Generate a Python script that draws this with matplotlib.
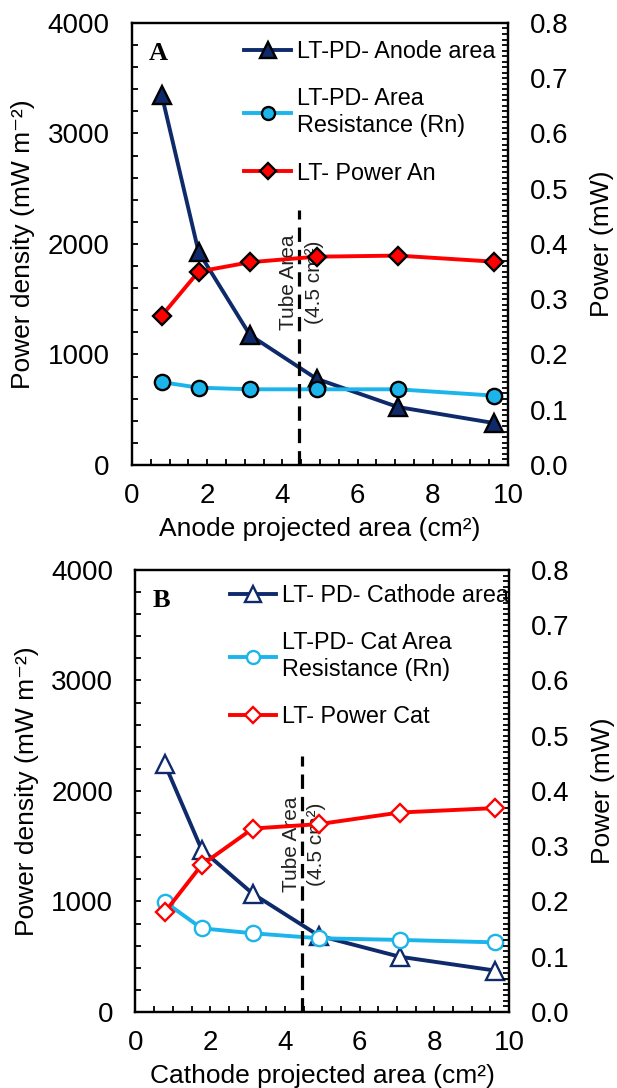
import matplotlib
matplotlib.use("Agg")
import matplotlib.pyplot as plt
from matplotlib.ticker import MultipleLocator, FormatStrFormatter

plt.rcParams['font.family'] = ['Liberation Sans', 'DejaVu Sans']

# projected electrode areas (cm2)
area = [0.79, 1.77, 3.14, 4.91, 7.07, 9.62]

# panel A - anode
pd_anode = [3350, 1930, 1175, 780, 525, 380]
pd_anode_rn = [750, 700, 685, 685, 685, 628]
power_an = [0.270, 0.350, 0.367, 0.377, 0.379, 0.368]

# panel B - cathode
pd_cathode = [2240, 1470, 1070, 690, 500, 375]
pd_cathode_rn = [995, 757, 712, 667, 652, 630]
power_cat = [0.181, 0.266, 0.332, 0.340, 0.361, 0.369]

tube_area = 4.45
tube_line_top = [2310, 2320]

navy = '#0F2A6B'
light = '#1BB5EC'
red = '#FF0000'

fig = plt.figure(figsize=(6.17, 10.88), dpi=100)


def make_panel(pos, letter, pd, pd_rn, power, labels, xlabel, hollow,
               line_top, text_y, leg_anchor):
    ax = fig.add_axes(pos)
    ax2 = ax.twinx()

    if hollow:
        fc1, fc2, fc3 = 'white', 'white', 'white'
        ec1, ec2, ec3 = navy, light, red
    else:
        fc1, fc2, fc3 = navy, light, red
        ec1 = ec2 = ec3 = 'black'

    l1, = ax.plot(area, pd, color=navy, lw=2.8, marker='^', ms=13,
                  mfc=fc1, mec=ec1, mew=1.7, label=labels[0])
    l2, = ax.plot(area, pd_rn, color=light, lw=2.8, marker='o', ms=11,
                  mfc=fc2, mec=ec2, mew=1.7, label=labels[1])
    l3, = ax2.plot(area, power, color=red, lw=2.8, marker='D', ms=9.5,
                   mfc=fc3, mec=ec3, mew=1.7, label=labels[2])

    # tube area marker
    ax.plot([tube_area, tube_area], [0, line_top], color='black', lw=2.3,
            ls=(0, (4.5, 2.5)))
    ax.text(4.51, text_y, 'Tube Area\n(4.5 cm²)', rotation=90, ha='center',
            va='center', fontsize=15, color='#222222', multialignment='center',
            linespacing=1.45)

    ax.set_xlim(0, 10)
    ax.set_ylim(0, 4000)
    ax2.set_ylim(0, 0.8)

    ax.xaxis.set_major_locator(MultipleLocator(2))
    ax.xaxis.set_minor_locator(MultipleLocator(0.5))
    ax.yaxis.set_major_locator(MultipleLocator(1000))
    ax.yaxis.set_minor_locator(MultipleLocator(200))
    ax2.yaxis.set_major_locator(MultipleLocator(0.1))
    ax2.yaxis.set_minor_locator(MultipleLocator(0.01))
    ax2.yaxis.set_major_formatter(FormatStrFormatter('%.1f'))

    ax.tick_params(axis='both', which='both', direction='in', length=4.5,
                   width=1.3, labelsize=20)
    ax.tick_params(axis='y', which='both', right=False, pad=16)
    ax.tick_params(axis='x', which='both', top=False, pad=13)
    ax2.tick_params(axis='y', which='both', direction='in', length=4.5,
                    width=1.3, labelsize=20, pad=16)

    for a in (ax, ax2):
        for s in a.spines.values():
            s.set_linewidth(1.6)

    ax.set_ylabel('Power density (mW m⁻²)', fontsize=19, labelpad=9)
    ax2.set_ylabel('Power (mW)', fontsize=19, labelpad=15)
    ax.set_xlabel(xlabel, fontsize=19, labelpad=6)

    ax.text(0.07, 0.93, letter, transform=ax.transAxes, fontsize=19,
            fontweight='bold', family='Liberation Serif', ha='center', va='center')

    ax2.legend(handles=[l1, l2, l3], loc='upper left', bbox_to_anchor=leg_anchor,
               frameon=False, fontsize=16.8, borderpad=0, handlelength=2.0,
               handletextpad=0.25, labelspacing=1.05, numpoints=1,
               markerscale=0.85)
    return ax, ax2


make_panel([0.2139, 0.5726, 0.6094, 0.4063], 'A', pd_anode, pd_anode_rn, power_an,
           ['LT-PD- Anode area', 'LT-PD- Area\nResistance (Rn)', 'LT- Power An'],
           'Anode projected area (cm²)', False, tube_line_top[0], 1650,
           (0.268, 0.988))

make_panel([0.2196, 0.0699, 0.6054, 0.4062], 'B', pd_cathode, pd_cathode_rn, power_cat,
           ['LT- PD- Cathode area', 'LT-PD- Cat Area\nResistance (Rn)', 'LT- Power Cat'],
           'Cathode projected area (cm²)', True, tube_line_top[1], 1520,
           (0.221, 0.995))

fig.savefig('out.png', dpi=100)
